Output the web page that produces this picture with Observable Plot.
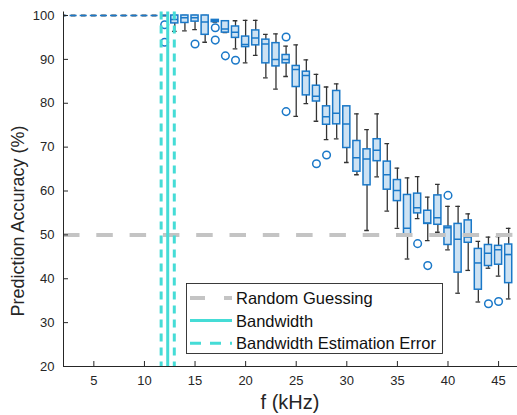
<!DOCTYPE html>
<html><head><meta charset="utf-8">
<script src="https://cdn.jsdelivr.net/npm/d3@7"></script>
<script src="https://cdn.jsdelivr.net/npm/@observablehq/plot@0.6"></script>
<style>
html,body{margin:0;padding:0;background:#fff;}
#chart svg{display:block;}
</style></head><body><div id="chart"></div>
<script>
// ---- data ----
const freqKHz     = [2,3,4,5,6,7,8,9,10,11,12,13,14,15,16,17,18,19,20,21,22,23,24,25,26,27,28,29,30,31,32,33,34,35,36,37,38,39,40,41,42,43,44,45,46];
const whiskerLow  = [100,100,100,100,100,100,100,100,100,100,100,96.4,96.5,96.8,93.9,98.5,96.1,92.4,89.2,90.9,85.8,83.2,86.1,77.0,79.9,75.9,71.7,71.9,66.5,63.7,51.0,63.2,55.4,51.5,44.5,53.7,48.7,50.6,46.6,36.7,41.9,34.7,42.4,40.6,35.4];
const quartile1   = [100,100,100,100,100,100,100,100,100,100,100,98.2,98.3,98.6,95.6,98.5,96.1,94.9,92.8,93.2,89.1,88.4,89.1,83.7,81.8,80.4,75.1,75.2,69.8,64.4,61.3,66.8,60.3,57.7,49.7,54.9,52.5,52.3,47.7,41.4,48.2,37.5,42.9,43.2,39.0];
const median      = [100,100,100,100,100,100,100,100,100,100,100,99.1,99.5,99.5,98.5,98.8,96.9,96.2,93.4,94.9,93.5,90.0,90.0,87.7,86.3,81.6,76.9,77.7,75.3,67.6,67.3,69.3,63.7,60.1,51.5,56.2,52.7,53.9,51.6,49.0,49.5,43.6,45.8,46.6,45.5];
const quartile3   = [100,100,100,100,100,100,100,100,100,100,100,100,100,100,100,99.0,98.7,97.5,95.2,96.6,94.5,93.7,91.0,88.5,87.2,84.0,79.3,82.8,79.3,71.4,69.5,71.8,66.7,62.5,59.1,59.4,55.5,59.0,51.9,52.5,53.3,46.8,47.7,47.5,47.8];
const whiskerHigh = [100,100,100,100,100,100,100,100,100,100,100,100,100,100,100,99.0,98.7,98.8,98.9,98.9,95.7,95.8,93.0,93.3,89.9,86.6,83.7,84.4,79.3,77.6,74.0,77.6,70.8,65.2,63.0,63.3,58.6,61.5,56.5,56.5,54.8,48.5,49.5,49.6,51.5];
const outlierKHz  = [12,12,15,17,17,18,19,24,24,27,28,37,38,40,44,45];
const outlierPct  = [97.9,93.9,93.5,97.2,94.4,90.8,89.8,95.1,78.1,66.2,68.2,48.0,43.0,59.0,34.3,34.8];
const randomGuessPct = [50];
const bandwidthKHz = [12.3];
const bandwidthErrKHz = [11.65, 12.95];
const xTicks = [5,10,15,20,25,30,35,40,45];
const yTicks = [20,30,40,50,60,70,80,90,100];
const xDomain = [2, 46.87];
const yDomain = [20, 100.8];
const legendLabels = ["Random Guessing", "Bandwidth", "Bandwidth Estimation Error"];
const xLabel = "f (kHz)";
const yLabel = "Prediction Accuracy (%)";

// ---- styles ----
const BLUE = "#1a78c8", FILL = "#cde2f3", WHISK = "#333333";
const GRAY = "#c4c4c4", CYAN = "#45dcd6", AX = "#262626";
const FONT = "'Liberation Sans', Arial, Helvetica, sans-serif";
const HALF = 0.35, CAP = 0.23;

const boxes = freqKHz.map((f, i) => ({f, lo: whiskerLow[i], q1: quartile1[i], med: median[i], q3: quartile3[i], hi: whiskerHigh[i]}));
const outliers = outlierKHz.map((f, i) => ({f, v: outlierPct[i]}));

const plot = Plot.plot({
  width: 517, height: 415,
  marginLeft: 63, marginRight: 0, marginTop: 11.5, marginBottom: 49,
  style: {fontFamily: FONT, fontSize: "13px", color: AX, background: "#fff", overflow: "visible"},
  x: {domain: xDomain},
  y: {domain: yDomain},
  marks: [
    // whiskers
    Plot.ruleX(boxes, {x: "f", y1: "lo", y2: "hi", stroke: WHISK, strokeWidth: 1.3, clip: true}),
    Plot.ruleY(boxes, {y: "lo", x1: d => d.f - CAP, x2: d => d.f + CAP, stroke: WHISK, strokeWidth: 1.3, clip: true}),
    Plot.ruleY(boxes, {y: "hi", x1: d => d.f - CAP, x2: d => d.f + CAP, stroke: WHISK, strokeWidth: 1.3, clip: true}),
    // boxes
    Plot.rect(boxes, {x1: d => d.f - HALF, x2: d => d.f + HALF, y1: "q1", y2: "q3", fill: FILL, stroke: BLUE, strokeWidth: 1.5, clip: true}),
    Plot.ruleY(boxes, {y: "med", x1: d => d.f - HALF, x2: d => d.f + HALF, stroke: BLUE, strokeWidth: 1.5, clip: true}),
    // outliers
    Plot.dot(outliers, {x: "f", y: "v", r: 3.8, stroke: BLUE, strokeWidth: 1.5, fill: "none"}),
    // reference lines
    Plot.ruleY(randomGuessPct, {stroke: GRAY, strokeWidth: 4, strokeDasharray: "16.5,16.8"}),
    Plot.ruleX(bandwidthErrKHz, {stroke: CYAN, strokeWidth: 3, strokeDasharray: "8,6"}),
    Plot.ruleX(bandwidthKHz, {stroke: CYAN, strokeWidth: 3}),
    // axes
    Plot.ruleX([xDomain[0]], {stroke: AX, strokeWidth: 1}),
    Plot.ruleY([yDomain[0]], {stroke: AX, strokeWidth: 1}),
    Plot.axisX({ticks: xTicks, tickSize: 5, dy: -5, tickPadding: 9, label: null, stroke: AX}),
    Plot.axisY({ticks: yTicks, tickSize: 5, dx: 5, tickPadding: 9, label: null, stroke: AX})
  ]
});

const svg = d3.select(plot);
// axis titles
svg.append("text").attr("font-family", FONT).attr("font-size", 20).attr("fill", AX)
  .attr("text-anchor", "middle").attr("x", 290).attr("y", 409).text(xLabel);
svg.append("text").attr("font-family", FONT).attr("font-size", 18).attr("fill", AX)
  .attr("text-anchor", "middle").attr("transform", "translate(24,221) rotate(-90)").text(yLabel);

// legend
const lg = svg.append("g").attr("font-family", FONT);
lg.append("rect").attr("x", 186.5).attr("y", 283.5).attr("width", 256).attr("height", 70)
  .attr("fill", "#fff").attr("stroke", AX).attr("stroke-width", 0.9);
const legendStyles = [
  {stroke: GRAY, width: 4, dash: "15,19"},
  {stroke: CYAN, width: 3, dash: null},
  {stroke: CYAN, width: 3, dash: "11,9"}
];
legendLabels.forEach((label, i) => {
  const cy = 298 + i * 22.6, st = legendStyles[i];
  const ln = lg.append("line").attr("x1", 190).attr("x2", 232).attr("y1", cy).attr("y2", cy)
    .attr("stroke", st.stroke).attr("stroke-width", st.width);
  if (st.dash) ln.attr("stroke-dasharray", st.dash);
  lg.append("text").attr("x", 236).attr("y", cy).attr("dy", "0.36em").attr("font-size", 16.5)
    .attr("text-anchor", "start").attr("fill", "#111").text(label);
});

document.getElementById("chart").appendChild(plot);
</script>
</body></html>
